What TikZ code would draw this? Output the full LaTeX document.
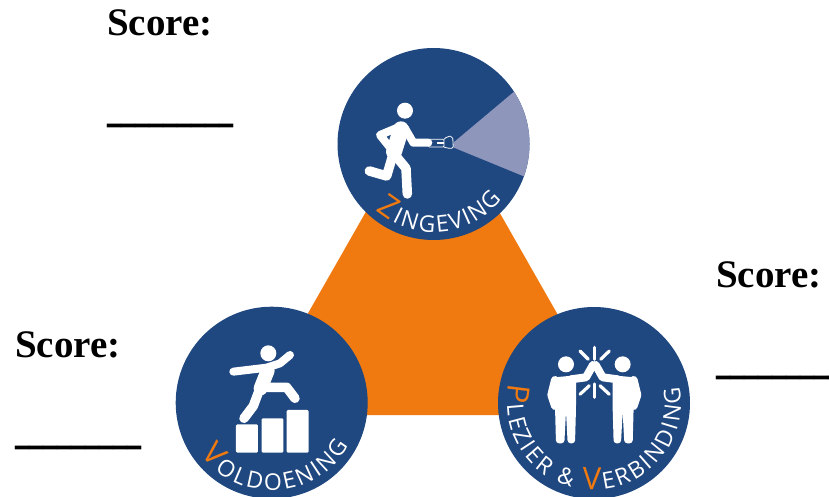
\documentclass[tikz,border=0pt]{standalone}
\usepackage{fontspec}
\setsansfont{Open Sans}
\setmainfont{Liberation Serif}
\usetikzlibrary{decorations.text}
\definecolor{navy}{HTML}{1F4780}
\definecolor{orng}{HTML}{F07A10}
\definecolor{beam}{HTML}{8F96BC}
\tikzset{
  disc/.style={circle,fill=navy,minimum size=192pt,inner sep=0pt},
  score/.style={anchor=base west,inner sep=0pt,font=\fontsize{39}{39}\selectfont\bfseries},
  limb/.style={white,line width=9.5pt,line cap=round,line join=round},
  slim/.style={white,line width=8pt,line cap=round,line join=round},
  barbox/.style={fill=white,rounded corners=1.2pt},
  spark/.style={white,line width=3.2pt,line cap=round},
  arclabel/.style={decorate,decoration={text along path,text align={fit to path},
     text format delimiters={|}{|},text={#1}}},
  zoomA/.style={shift={(330,40)},x=0.3333pt,y=-0.3333pt},
  zoomB/.style={shift={(170,300)},x=0.3333pt,y=-0.3333pt},
  zoomC/.style={shift={(490,300)},x=0.3333pt,y=-0.3333pt},
}
\newcommand{\blankline}{\scalebox{.72}[1.35]{\_\_\_\_\_\_\_\_\_}}
\newcommand{\labfont}{\fontsize{23}{23}\selectfont\sffamily\color{white}}
\newcommand{\capfont}{\fontsize{31}{31}\selectfont\sffamily\color{orng}}
\begin{document}
\begin{tikzpicture}[x=1pt,y=-1pt]
\useasboundingbox (0,0) rectangle (829,497);
\clip (0,0) rectangle (829,497);
% triangle
\fill[orng] (432.5,95) -- (615,415) -- (250,415) -- cycle;
% discs
\node[disc] (top) at (433.5,144) {};
\node[disc] (left) at (271.7,402.7) {};
\node[disc] (right) at (594,403) {};
% scores
\node[score] (s1) at (107,36) {Score:};
\node[score] (b1) at (107,120.5) {\blankline};
\node[score] (s2) at (716,287) {Score:};
\node[score] (b2) at (716,372) {\blankline};
\node[score] (s3) at (15,357) {Score:};
\node[score] (b3) at (15,442) {\blankline};
% --- zingeving figure
\fill[beam] (453.5,142.5) -- ([shift={(33:96pt)}]top.center) arc[start angle=33,end angle=-19.7,radius=96pt] -- (453.5,147.5) -- cycle;
\begin{scope}[zoomA]
  \fill[white] (225,212) circle (8pt);
  \draw[white,line width=16pt,line cap=round] (213,268) -- (192,335);
  \draw[slim] (205,262) -- (150,285) -- (178,320);
  \draw[slim] (225,265) -- (250,308) -- (295,308);
  \draw[limb] (190,340) -- (170,408) -- (118,393);
  \draw[limb] (195,345) -- (228,385) -- (232,462);
  \draw[white,line width=0.8pt,rounded corners=1pt] (295,298) rectangle (342,321);
  \draw[white,line width=0.8pt,rounded corners=2pt] (342,298) -- (352,289) -- (368,289) -- (370,325) -- (352,325) -- (342,321);
  \fill[white] (322,307) rectangle (342,312);
\end{scope}
% --- voldoening figure
\begin{scope}[zoomB]
  \fill[white] (295,160) circle (8pt);
  \draw[slim] (190,215) -- (290,203) -- (330,190) -- (360,165);
  \draw[white,line width=14pt,line cap=round] (293,212) -- (272,265);
  \draw[limb] (285,262) -- (350,262) -- (375,295);
  \draw[limb] (268,270) -- (250,318) -- (222,355);
  \fill[barbox] (198,373) rectangle (264,458);
  \fill[barbox] (275,355) rectangle (340,458);
  \fill[barbox] (350,330) rectangle (416,458);
\end{scope}
% --- plezier figure
\begin{scope}[zoomC]
  \foreach \m in {1,-1}{
    \begin{scope}[shift={(313,0)},xscale=\m]
      \fill[white] (-85,193) circle (8pt);
      \fill[white,rounded corners=3pt] (-120,232) -- (-55,226) -- (-55,325) -- (-58,430) -- (-80,430) -- (-85,335) -- (-90,430) -- (-115,430) -- (-118,320) -- cycle;
      \draw[slim] (-118,240) -- (-129,285) -- (-118,318);
      \draw[slim] (-70,238) -- (-25,232) -- (-4,195);
    \end{scope}
  }
  \draw[spark] (313,142) -- (313,178);
  \draw[spark] (270,153) -- (295,178);
  \draw[spark] (358,153) -- (332,178);
  \draw[spark] (313,252) -- (313,292);
  \draw[spark] (270,283) -- (298,257);
  \draw[spark] (358,283) -- (330,257);
\end{scope}
% --- curved labels
\path[arclabel={|\capfont|Z|||\labfont|INGEVING}] (top) ++(229:88pt) arc[start angle=229,end angle=321,radius=88pt];
\path[arclabel={|\capfont|V|||\labfont|OLDOENING}] (left) ++(216:88pt) arc[start angle=216,end angle=331,radius=88pt];
\path[arclabel={|\capfont|P|||\labfont|LEZIER {\&} |||\capfont|V|||\labfont|ERBINDING}] (right) ++(167:87pt) arc[start angle=167,end angle=371,radius=87pt];
\end{tikzpicture}
\end{document}
